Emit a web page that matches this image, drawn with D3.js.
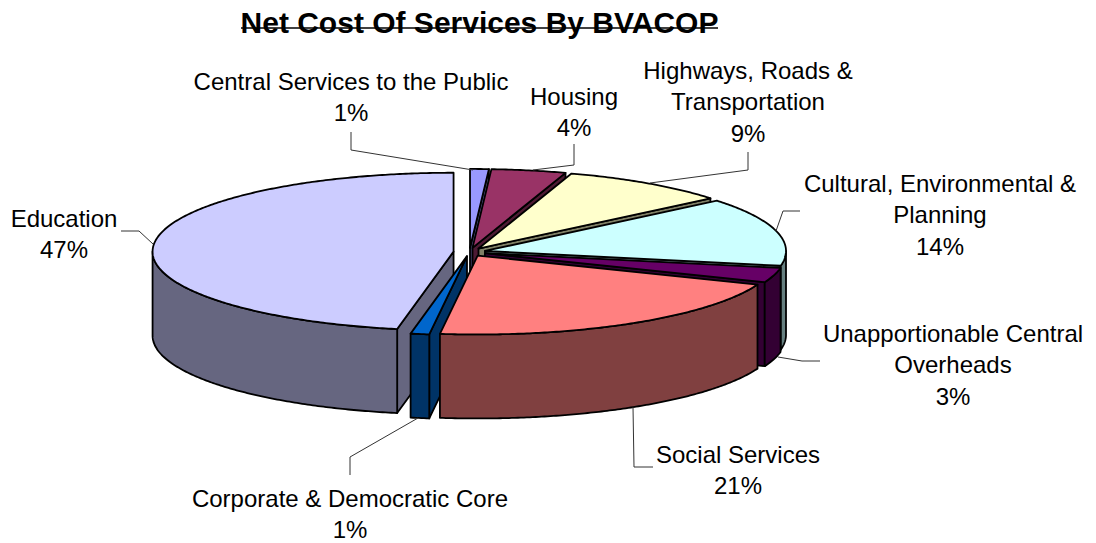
<!DOCTYPE html>
<html>
<head>
<meta charset="utf-8">
<title>Net Cost Of Services By BVACOP</title>
<script src="https://cdnjs.cloudflare.com/ajax/libs/d3/7.9.0/d3.min.js"></script>
<style>
  html, body { margin: 0; background: #fff; }
  svg { display: block; }
  text { font-family: "Liberation Sans", Arial, sans-serif; fill: #000; }
</style>
</head>
<body>
<svg id="chart" width="1096" height="543"></svg>
<script>
// Spending shares, clockwise from twelve o'clock
const categories = [
  "Central Services to the Public",
  "Housing",
  "Highways, Roads & Transportation",
  "Cultural, Environmental & Planning",
  "Unapportionable Central Overheads",
  "Social Services",
  "Corporate & Democratic Core",
  "Education"
];
const shares = [1, 4, 9, 14, 3, 21, 1, 47];
const topColours = ["#9999ff", "#993366", "#ffffcc", "#ccffff", "#660066", "#ff8080", "#0066cc", "#ccccff"];
const sideColours = ["#4d4d80", "#4d1a33", "#808066", "#668080", "#330033", "#804040", "#003366", "#666680"];

// Wrapped label lines, and where each label and its leader sit
const labelLines = [
  ["Central Services to the Public"],
  ["Housing"],
  ["Highways, Roads &", "Transportation"],
  ["Cultural, Environmental &", "Planning"],
  ["Unapportionable Central", "Overheads"],
  ["Social Services"],
  ["Corporate & Democratic Core"],
  ["Education"]
];
const labelAnchors = [[351, 81], [574, 96], [748, 70], [940, 183], [953, 333], [738, 454], [350, 498], [64, 218]];
const leaderPaths = [
  [[351, 132], [351, 150], [473, 170]],
  [[574, 144], [574, 165], [533, 170]],
  [[748, 152], [748, 170], [650, 183]],
  [[800, 211], [783, 211], [776, 231]],
  [[820, 361], [802, 361], [778, 357]],
  [[633, 407], [634, 467], [653, 467]],
  [[350, 475], [350, 457], [418, 418]],
  [[121, 231], [139, 231], [153, 244]]
];

// Tilted pie geometry
const cx = 469.5, cy = 252, radius = 301, tilt = 0.262, depth = 84, explode = 16;
const lineHeight = 31.5;

const svg = d3.select("#chart");
const pie = d3.pie().sort(null).value(d => d.share);
const arcs = pie(shares.map((share, i) => ({ share, i })));

const px = d3.scaleLinear().domain([-1, 1]).range([-radius, radius]);
const py = d3.scaleLinear().domain([-1, 1]).range([-radius * tilt, radius * tilt]);

// Unit circle position for a clockwise angle measured from the top
const rimX = a => px(Math.sin(a));
const rimY = a => py(-Math.cos(a));

function rimSamples(a0, a1) {
  const n = Math.max(2, Math.ceil((a1 - a0) / 0.01));
  return d3.range(n + 1).map(i => a0 + (a1 - a0) * i / n);
}

const line = d3.line();
const closed = pts => line(pts) + "Z";

// Back-to-front paint order; Social Services overlaps the thin Core slice
const paintOrder = [0, 1, 2, 3, 4, 7, 6, 5];

const slices = svg.append("g").attr("stroke", "#000").attr("stroke-width", 1.8).attr("stroke-linejoin", "round");

paintOrder.forEach(i => {
  const d = arcs[i];
  const mid = (d.startAngle + d.endAngle) / 2;
  const ax = cx + explode * Math.sin(mid);
  const ay = cy - explode * tilt * Math.cos(mid);
  const g = slices.append("g");
  const rim = a => [ax + rimX(a), ay + rimY(a)];
  const apexTop = [ax, ay];
  const apexBottom = [ax, ay + depth];
  const side = sideColours[i];

  // Radial wall that faces the viewer
  [[d.startAngle, Math.sin(d.startAngle) < 0], [d.endAngle, Math.sin(d.endAngle) > 0]]
    .filter(w => w[1])
    .forEach(([a]) => {
      const p = rim(a);
      g.append("path").attr("fill", side)
        .attr("d", closed([apexTop, p, [p[0], p[1] + depth], apexBottom]));
    });

  // Curved outer wall, front half of the circle only
  const f0 = Math.max(d.startAngle, Math.PI / 2);
  const f1 = Math.min(d.endAngle, Math.PI * 1.5);
  if (f1 > f0) {
    const upper = rimSamples(f0, f1).map(rim);
    const lower = upper.map(p => [p[0], p[1] + depth]).reverse();
    g.append("path").attr("fill", side).attr("d", closed(upper.concat(lower)));
  }

  // Top face
  const top = [apexTop].concat(rimSamples(d.startAngle, d.endAngle).map(rim));
  g.append("path").attr("fill", topColours[i]).attr("d", closed(top));
});

// Leaders
svg.append("g").attr("fill", "none").attr("stroke", "#333").attr("stroke-width", 1)
  .selectAll("path").data(leaderPaths).join("path").attr("d", d => line(d));

// Category labels with their percentage on the last line
const fmt = d3.format("d");
svg.append("g").selectAll("text").data(categories).join("text")
  .attr("text-anchor", "middle")
  .attr("font-size", 24)
  .each(function (name, i) {
    const lines = labelLines[i].concat(fmt(shares[i]) + "%");
    d3.select(this).selectAll("tspan").data(lines).join("tspan")
      .attr("x", labelAnchors[i][0])
      .attr("y", (l, j) => labelAnchors[i][1] + 8.5 + j * lineHeight)
      .text(l => l);
  });

// Heading with its rule
svg.append("text").attr("x", 479.5).attr("y", 33).attr("text-anchor", "middle")
  .attr("font-size", 30).attr("font-weight", "bold")
  .text("Net Cost Of Services By BVACOP");
svg.append("line").attr("x1", 241).attr("x2", 718).attr("y1", 28).attr("y2", 28)
  .attr("stroke", "#000").attr("stroke-width", 1.5);
</script>
</body>
</html>
